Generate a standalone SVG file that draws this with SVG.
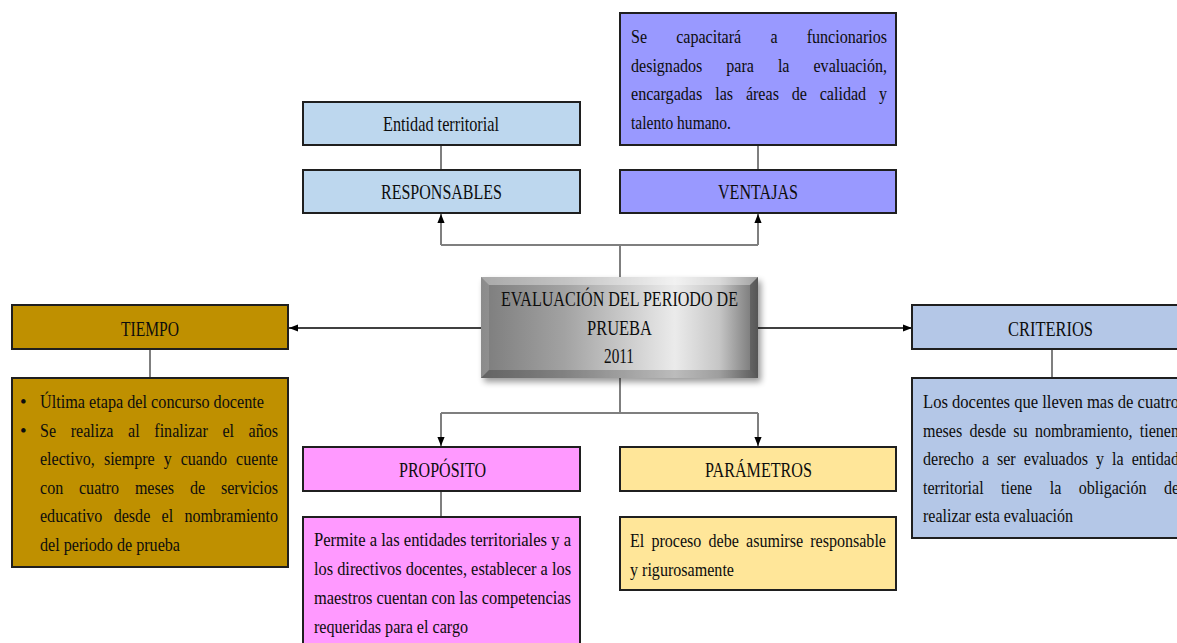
<svg xmlns="http://www.w3.org/2000/svg" width="1177" height="643" viewBox="0 0 1177 643">
  <style>
    .box { stroke: #1f1f1f; stroke-width: 2; }
    .lblue { fill: #bdd7ee; }
    .violet { fill: #9999ff; }
    .gold { fill: #bf9000; }
    .steel { fill: #b4c7e7; }
    .pink { fill: #ff99ff; }
    .cream { fill: #ffe699; }
    .h { font-family: "Liberation Serif", "Times New Roman", serif; font-size: 22px; fill: #0d0d0d; }
    .b { font-family: "Liberation Serif", "Times New Roman", serif; font-size: 19px; fill: #0d0d0d; }
    .link { fill: none; stroke: #7f7f7f; stroke-width: 2; }
    .link-dark { fill: none; stroke: #000; stroke-width: 1.6; }
  </style>
  <defs>
    <marker id="arrow" viewBox="0 0 10 8" refX="10" refY="4" markerWidth="9" markerHeight="8" markerUnits="userSpaceOnUse" orient="auto">
      <path d="M0,0 L10,4 L0,8 z" fill="#000"/>
    </marker>
    <linearGradient id="silver" x1="0" y1="0" x2="1" y2="0">
      <stop offset="0" stop-color="#7c7c7c"/>
      <stop offset="0.3" stop-color="#a2a2a2"/>
      <stop offset="0.7" stop-color="#ebebeb"/>
      <stop offset="0.86" stop-color="#c6c6c6"/>
      <stop offset="1" stop-color="#6e6e6e"/>
    </linearGradient>
    <filter id="soft" x="-10%" y="-20%" width="120%" height="140%">
      <feGaussianBlur stdDeviation="3"/>
    </filter>
  </defs>

  <rect x="0" y="0" width="1177" height="643" fill="#fff"/>

  <!-- connectors -->
  <g id="connectors">
    <path class="link" d="M441,145 V170"/>
    <path class="link" d="M758,145 V170"/>
    <path class="link" d="M620,277 V245 M441,245 H758"/>
    <path class="link" d="M441,245 V214" marker-end="url(#arrow)"/>
    <path class="link" d="M758,245 V214" marker-end="url(#arrow)"/>
    <path class="link-dark" d="M481,328 H289" marker-end="url(#arrow)"/>
    <path class="link-dark" d="M758,328 H912" marker-end="url(#arrow)"/>
    <path class="link" d="M150,349 V378"/>
    <path class="link" d="M1052,349 V378"/>
    <path class="link" d="M620,378 V413 M441,413 H758"/>
    <path class="link" d="M441,413 V446" marker-end="url(#arrow)"/>
    <path class="link" d="M758,413 V446" marker-end="url(#arrow)"/>
    <path class="link" d="M441,491 V517"/>
  </g>

  <!-- central node -->
  <g id="center">
    <rect x="484" y="281" width="277" height="101" fill="#000" opacity="0.4" filter="url(#soft)"/>
    <rect x="481" y="277" width="277" height="101" fill="url(#silver)"/>
    <polygon points="481,277 758,277 750,285 489,285" fill="#fff" opacity="0.35"/>
    <polygon points="481,277 489,285 489,370 481,378" fill="#fff" opacity="0.12"/>
    <polygon points="481,378 489,370 750,370 758,378" fill="#000" opacity="0.2"/>
    <polygon points="758,277 758,378 750,370 750,285" fill="#000" opacity="0.22"/>
    <text class="h" x="501" y="306" textLength="237" lengthAdjust="spacingAndGlyphs">EVALUACIÓN DEL PERIODO DE</text>
    <text class="h" x="587" y="335" textLength="65" lengthAdjust="spacingAndGlyphs">PRUEBA</text>
    <text class="h" x="604" y="363" textLength="30" lengthAdjust="spacingAndGlyphs">2011</text>
  </g>

  <!-- responsables -->
  <g id="entidad">
    <rect class="box lblue" x="303" y="102" width="277" height="43"/>
    <text class="h" x="383" y="131" textLength="116" lengthAdjust="spacingAndGlyphs">Entidad territorial</text>
  </g>
  <g id="responsables">
    <rect class="box lblue" x="303" y="170" width="277" height="43"/>
    <text class="h" x="381" y="199" textLength="121" lengthAdjust="spacingAndGlyphs">RESPONSABLES</text>
  </g>

  <!-- ventajas -->
  <g id="ventajas-texto">
    <rect class="box violet" x="620" y="13" width="276" height="132"/>
    <text class="b" x="631" y="43" textLength="16" lengthAdjust="spacingAndGlyphs">Se</text>
    <text class="b" x="676.2" y="43" textLength="65" lengthAdjust="spacingAndGlyphs">capacitará</text>
    <text class="b" x="770.4" y="43" textLength="7.1" lengthAdjust="spacingAndGlyphs">a</text>
    <text class="b" x="806.7" y="43" textLength="80.3" lengthAdjust="spacingAndGlyphs">funcionarios</text>
    <text class="b" x="631" y="71.5" textLength="71.3" lengthAdjust="spacingAndGlyphs">designados</text>
    <text class="b" x="726.3" y="71.5" textLength="27.6" lengthAdjust="spacingAndGlyphs">para</text>
    <text class="b" x="777.9" y="71.5" textLength="11.6" lengthAdjust="spacingAndGlyphs">la</text>
    <text class="b" x="813.5" y="71.5" textLength="73.5" lengthAdjust="spacingAndGlyphs">evaluación,</text>
    <text class="b" x="631" y="100" textLength="71.3" lengthAdjust="spacingAndGlyphs">encargadas</text>
    <text class="b" x="715.2" y="100" textLength="17.8" lengthAdjust="spacingAndGlyphs">las</text>
    <text class="b" x="745.9" y="100" textLength="33" lengthAdjust="spacingAndGlyphs">áreas</text>
    <text class="b" x="791.7" y="100" textLength="15.2" lengthAdjust="spacingAndGlyphs">de</text>
    <text class="b" x="819.7" y="100" textLength="46.4" lengthAdjust="spacingAndGlyphs">calidad</text>
    <text class="b" x="879" y="100" textLength="8" lengthAdjust="spacingAndGlyphs">y</text>
    <text class="b" x="631" y="128.5" textLength="100" lengthAdjust="spacingAndGlyphs">talento humano.</text>
  </g>
  <g id="ventajas">
    <rect class="box violet" x="620" y="170" width="276" height="43"/>
    <text class="h" x="718" y="199" textLength="80" lengthAdjust="spacingAndGlyphs">VENTAJAS</text>
  </g>

  <!-- tiempo -->
  <g id="tiempo">
    <rect class="box gold" x="12" y="305" width="276" height="44"/>
    <text class="h" x="121" y="336" textLength="58" lengthAdjust="spacingAndGlyphs">TIEMPO</text>
  </g>
  <g id="tiempo-texto">
    <rect class="box gold" x="12" y="378" width="276" height="189"/>
    <text class="b" x="20" y="408">•</text>
    <text class="b" x="20" y="436.5">•</text>
    <text class="b" x="40" y="408" textLength="224" lengthAdjust="spacingAndGlyphs">Última etapa del concurso docente</text>
    <text class="b" x="40" y="436.5" textLength="16" lengthAdjust="spacingAndGlyphs">Se</text>
    <text class="b" x="70.7" y="436.5" textLength="42.8" lengthAdjust="spacingAndGlyphs">realiza</text>
    <text class="b" x="128.1" y="436.5" textLength="11.6" lengthAdjust="spacingAndGlyphs">al</text>
    <text class="b" x="154.3" y="436.5" textLength="53.5" lengthAdjust="spacingAndGlyphs">finalizar</text>
    <text class="b" x="222.4" y="436.5" textLength="11.6" lengthAdjust="spacingAndGlyphs">el</text>
    <text class="b" x="248.6" y="436.5" textLength="29.4" lengthAdjust="spacingAndGlyphs">años</text>
    <text class="b" x="40" y="465" textLength="54.8" lengthAdjust="spacingAndGlyphs">electivo,</text>
    <text class="b" x="103.9" y="465" textLength="50.8" lengthAdjust="spacingAndGlyphs">siempre</text>
    <text class="b" x="163.7" y="465" textLength="8" lengthAdjust="spacingAndGlyphs">y</text>
    <text class="b" x="180.7" y="465" textLength="46.4" lengthAdjust="spacingAndGlyphs">cuando</text>
    <text class="b" x="236.1" y="465" textLength="41.9" lengthAdjust="spacingAndGlyphs">cuente</text>
    <text class="b" x="40" y="493.5" textLength="23.2" lengthAdjust="spacingAndGlyphs">con</text>
    <text class="b" x="79" y="493.5" textLength="40.1" lengthAdjust="spacingAndGlyphs">cuatro</text>
    <text class="b" x="134.9" y="493.5" textLength="39.2" lengthAdjust="spacingAndGlyphs">meses</text>
    <text class="b" x="190" y="493.5" textLength="15.2" lengthAdjust="spacingAndGlyphs">de</text>
    <text class="b" x="221" y="493.5" textLength="57" lengthAdjust="spacingAndGlyphs">servicios</text>
    <text class="b" x="40" y="522" textLength="62.4" lengthAdjust="spacingAndGlyphs">educativo</text>
    <text class="b" x="113.7" y="522" textLength="36.6" lengthAdjust="spacingAndGlyphs">desde</text>
    <text class="b" x="161.5" y="522" textLength="11.6" lengthAdjust="spacingAndGlyphs">el</text>
    <text class="b" x="184.4" y="522" textLength="93.6" lengthAdjust="spacingAndGlyphs">nombramiento</text>
    <text class="b" x="40" y="550.5" textLength="140" lengthAdjust="spacingAndGlyphs">del periodo de prueba</text>
  </g>

  <!-- criterios -->
  <g id="criterios">
    <rect class="box steel" x="912" y="305" width="277" height="44"/>
    <text class="h" x="1008" y="336" textLength="85" lengthAdjust="spacingAndGlyphs">CRITERIOS</text>
  </g>
  <g id="criterios-texto">
    <rect class="box steel" x="912" y="378" width="277" height="160"/>
    <text class="b" x="923" y="408" textLength="256" lengthAdjust="spacingAndGlyphs">Los docentes que lleven mas de cuatro</text>
    <text class="b" x="923" y="436.5" textLength="39.2" lengthAdjust="spacingAndGlyphs">meses</text>
    <text class="b" x="969.5" y="436.5" textLength="36.6" lengthAdjust="spacingAndGlyphs">desde</text>
    <text class="b" x="1013.3" y="436.5" textLength="14.3" lengthAdjust="spacingAndGlyphs">su</text>
    <text class="b" x="1034.9" y="436.5" textLength="97.6" lengthAdjust="spacingAndGlyphs">nombramiento,</text>
    <text class="b" x="1139.8" y="436.5" textLength="39.2" lengthAdjust="spacingAndGlyphs">tienen</text>
    <text class="b" x="923" y="465" textLength="50.8" lengthAdjust="spacingAndGlyphs">derecho</text>
    <text class="b" x="981.9" y="465" textLength="7.1" lengthAdjust="spacingAndGlyphs">a</text>
    <text class="b" x="997" y="465" textLength="18.7" lengthAdjust="spacingAndGlyphs">ser</text>
    <text class="b" x="1023.8" y="465" textLength="64.2" lengthAdjust="spacingAndGlyphs">evaluados</text>
    <text class="b" x="1096" y="465" textLength="8" lengthAdjust="spacingAndGlyphs">y</text>
    <text class="b" x="1112.1" y="465" textLength="11.6" lengthAdjust="spacingAndGlyphs">la</text>
    <text class="b" x="1131.7" y="465" textLength="47.3" lengthAdjust="spacingAndGlyphs">entidad</text>
    <text class="b" x="923" y="493.5" textLength="60.6" lengthAdjust="spacingAndGlyphs">territorial</text>
    <text class="b" x="1001" y="493.5" textLength="31.2" lengthAdjust="spacingAndGlyphs">tiene</text>
    <text class="b" x="1049.7" y="493.5" textLength="11.6" lengthAdjust="spacingAndGlyphs">la</text>
    <text class="b" x="1078.7" y="493.5" textLength="67.8" lengthAdjust="spacingAndGlyphs">obligación</text>
    <text class="b" x="1163.9" y="493.5" textLength="15.2" lengthAdjust="spacingAndGlyphs">de</text>
    <text class="b" x="923" y="522" textLength="150" lengthAdjust="spacingAndGlyphs">realizar esta evaluación</text>
  </g>

  <!-- proposito -->
  <g id="proposito">
    <rect class="box pink" x="303" y="447" width="277" height="44"/>
    <text class="h" x="399" y="477" textLength="87" lengthAdjust="spacingAndGlyphs">PROPÓSITO</text>
  </g>
  <g id="proposito-texto">
    <rect class="box pink" x="303" y="517" width="277" height="140"/>
    <text class="b" x="314" y="546" textLength="257" lengthAdjust="spacingAndGlyphs">Permite a las entidades territoriales y a</text>
    <text class="b" x="314" y="575" textLength="257" lengthAdjust="spacingAndGlyphs">los directivos docentes, establecer a los</text>
    <text class="b" x="314" y="604" textLength="257" lengthAdjust="spacingAndGlyphs">maestros cuentan con las competencias</text>
    <text class="b" x="314" y="632.5" textLength="154" lengthAdjust="spacingAndGlyphs">requeridas para el cargo</text>
  </g>

  <!-- parametros -->
  <g id="parametros">
    <rect class="box cream" x="620" y="447" width="276" height="44"/>
    <text class="h" x="705" y="477" textLength="107" lengthAdjust="spacingAndGlyphs">PARÁMETROS</text>
  </g>
  <g id="parametros-texto">
    <rect class="box cream" x="620" y="517" width="276" height="73"/>
    <text class="b" x="630" y="547" textLength="14.3" lengthAdjust="spacingAndGlyphs">El</text>
    <text class="b" x="651.4" y="547" textLength="49.9" lengthAdjust="spacingAndGlyphs">proceso</text>
    <text class="b" x="708.5" y="547" textLength="30.3" lengthAdjust="spacingAndGlyphs">debe</text>
    <text class="b" x="746" y="547" textLength="57.1" lengthAdjust="spacingAndGlyphs">asumirse</text>
    <text class="b" x="810.2" y="547" textLength="75.8" lengthAdjust="spacingAndGlyphs">responsable</text>
    <text class="b" x="630" y="575.5" textLength="104" lengthAdjust="spacingAndGlyphs">y rigurosamente</text>
  </g>
</svg>
